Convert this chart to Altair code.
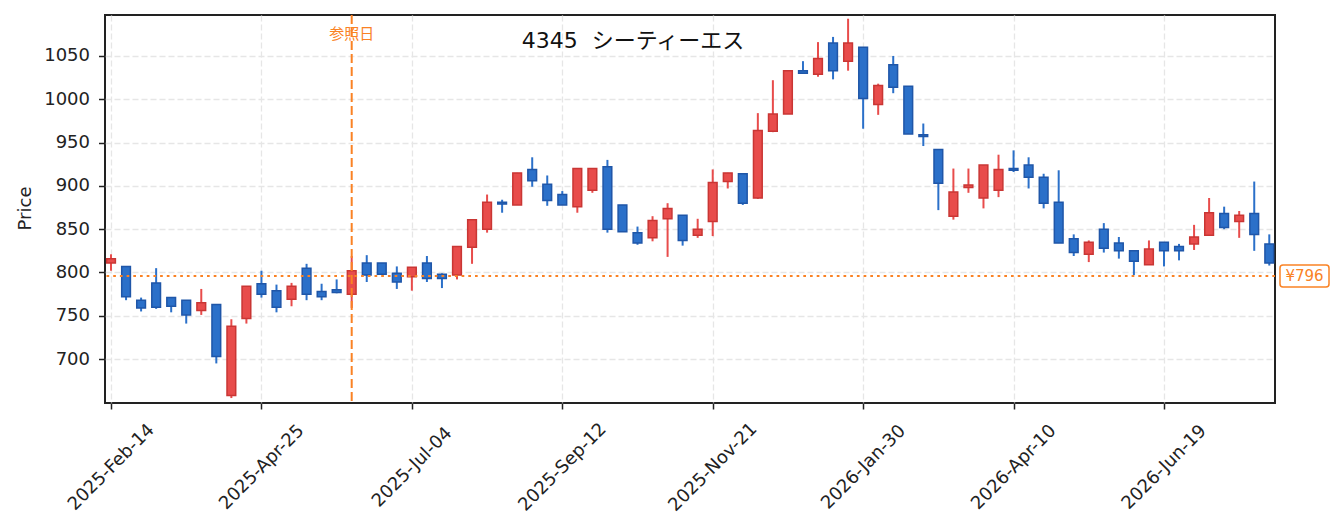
import json
import altair as alt
import pandas as pd

# ---- data (weekly candles) ----
start_date = "2025-02-14"
opens = [811, 807, 768, 788, 771, 768, 756, 763, 658, 747,
         787, 779, 769, 805, 778, 780, 775, 811, 811, 799,
         795, 811, 798, 797, 829, 850, 881, 878, 919, 902,
         890, 876, 895, 922, 878, 846, 840, 862, 866, 843,
         859, 905, 914, 886, 963, 983, 1033, 1029, 1065, 1044,
         1060, 994, 1040, 1015, 959, 942, 865, 898, 886, 895,
         920, 924, 910, 881, 839, 821, 850, 834, 825, 809,
         835, 830, 833, 843, 868, 859, 868, 833]
highs = [821, 807, 771, 805, 771, 768, 781, 763, 746, 784,
         802, 786, 788, 810, 787, 792, 819, 820, 811, 807,
         806, 819, 799, 830, 861, 890, 884, 915, 933, 912,
         894, 920, 920, 930, 878, 853, 865, 880, 866, 862,
         919, 915, 914, 984, 1022, 1033, 1044, 1066, 1072, 1093,
         1060, 1018, 1050, 1015, 972, 942, 920, 920, 924, 936,
         941, 933, 914, 918, 844, 837, 857, 841, 825, 837,
         835, 833, 855, 886, 876, 871, 905, 844]
lows = [802, 768, 755, 758, 754, 741, 751, 695, 655, 741,
        771, 754, 761, 768, 768, 776, 759, 789, 798, 781,
        779, 789, 782, 792, 810, 846, 869, 878, 899, 877,
        878, 869, 892, 846, 847, 832, 836, 818, 831, 840,
        842, 897, 878, 885, 962, 983, 1030, 1026, 1023, 1033,
        966, 982, 1007, 960, 946, 872, 861, 892, 874, 887,
        916, 897, 874, 834, 819, 812, 823, 816, 797, 809,
        807, 814, 826, 843, 850, 840, 825, 808]
closes = [816, 772, 759, 760, 761, 751, 765, 703, 738, 784,
          775, 760, 784, 775, 772, 777, 802, 797, 798, 789,
          806, 793, 793, 830, 861, 881, 879, 915, 906, 883,
          878, 920, 920, 850, 847, 834, 860, 874, 837, 850,
          904, 915, 880, 964, 983, 1033, 1030, 1047, 1033, 1065,
          1001, 1016, 1014, 960, 957, 903, 893, 901, 924, 919,
          918, 910, 880, 834, 823, 835, 828, 825, 813, 827,
          825, 825, 841, 869, 852, 866, 844, 811]
tick_labels = ["2025-Feb-14", "2025-Apr-25", "2025-Jul-04", "2025-Sep-12",
               "2025-Nov-21", "2026-Jan-30", "2026-Apr-10", "2026-Jun-19"]
y_ticks = [700, 750, 800, 850, 900, 950, 1000, 1050]
ref_date = "2025-06-06"
ref_price = 796
title_text = "4345\u00a0\u00a0シーティーエス"
ref_label = "参照日"
price_label = "¥796"
y_title = "Price"

# ---- styling ----
RED_FILL, RED_EDGE = "#e84c4b", "#c93634"
BLUE_FILL, BLUE_EDGE = "#2b70c9", "#1f56a8"
ORANGE = "#fa8224"
FONT = "DejaVu Sans, Noto Sans CJK JP"
INK = "#222222"
W, H = 1170, 388

dates = pd.date_range(start_date, periods=len(opens), freq="7D")
df = pd.DataFrame({
    "i": range(len(opens)),
    "date": dates.strftime("%Y-%m-%d"),
    "open": opens, "high": highs, "low": lows, "close": closes,
})
df["up"] = df["close"] >= df["open"]
df["x0"] = df["i"] - 0.29
df["x1"] = df["i"] + 0.29
df["body_lo"] = df[["open", "close"]].min(axis=1)
df["body_hi"] = df[["open", "close"]].max(axis=1)

tick_idx = [int(dates.get_loc(pd.to_datetime(t, format="%Y-%b-%d"))) for t in tick_labels]
ref_idx = int(dates.get_loc(pd.Timestamp(ref_date)))
label_map = {str(k): v for k, v in zip(tick_idx, tick_labels)}

x_scale = alt.Scale(domain=[-0.4, 77.38], nice=False, zero=False)
y_scale = alt.Scale(domain=[649.3, 1097.3], nice=False, zero=False)

x_axis = alt.Axis(
    values=tick_idx,
    labelExpr=f"{json.dumps(label_map)}[toString(datum.value)]",
    labelAngle=315, labelAlign="center", labelBaseline="middle",
    labelPadding=58, labelOverlap=False, labelBound=False, labelFlush=False,
    labelFontSize=18, labelFont=FONT, labelColor=INK,
    tickSize=6, tickWidth=1.5, tickColor=INK,
    grid=True, gridDash=[6, 3], gridColor="#e6e6e6", gridWidth=1.3,
    domain=False, title=None,
)
y_axis = alt.Axis(
    values=y_ticks, format="d",
    labelFontSize=18, labelFont=FONT, labelColor=INK, labelPadding=9,
    tickSize=6.5, tickWidth=1.5, tickColor=INK,
    grid=True, gridDash=[6, 3], gridColor="#e6e6e6", gridWidth=1.3,
    domain=False,
    title=y_title, titleFont=FONT, titleFontSize=18, titleFontWeight="normal",
    titleColor=INK, titleAngle=270, titleX=-79.5, titleY=193,
    titleAlign="center", titleBaseline="middle",
)

base = alt.Chart(df)

wicks = base.mark_rule(strokeWidth=2).encode(
    x=alt.X("i:Q", scale=x_scale, axis=x_axis),
    y=alt.Y("low:Q", scale=y_scale, axis=y_axis),
    y2="high:Q",
    color=alt.condition("datum.up", alt.value(RED_FILL), alt.value(BLUE_FILL)),
)

bodies = base.mark_rect(strokeWidth=1.5).encode(
    x="x0:Q", x2="x1:Q",
    y="body_lo:Q", y2="body_hi:Q",
    fill=alt.condition("datum.up", alt.value(RED_FILL), alt.value(BLUE_FILL)),
    stroke=alt.condition("datum.up", alt.value(RED_EDGE), alt.value(BLUE_EDGE)),
)

ref_df = pd.DataFrame({"i": [ref_idx], "t": [ref_label]})
ref_line = alt.Chart(ref_df).mark_rule(
    color=ORANGE, strokeWidth=2, strokeDash=[9, 4]
).encode(x="i:Q")
ref_text = alt.Chart(ref_df).mark_text(
    color=ORANGE, fontSize=15, font=FONT, align="center", baseline="middle"
).encode(x="i:Q", y=alt.value(19), text="t:N")

price_df = pd.DataFrame({"p": [ref_price], "lo": [ref_price - 12.7],
                         "hi": [ref_price + 12.6], "t": [price_label]})
price_line = alt.Chart(price_df).mark_rule(
    color=ORANGE, strokeWidth=2, strokeDash=[2.7, 4]
).encode(y="p:Q")
price_box = alt.Chart(price_df).mark_rect(
    fill="white", stroke=ORANGE, strokeWidth=1.5, cornerRadius=3
).encode(x=alt.value(W + 5), x2=alt.value(W + 54), y="lo:Q", y2="hi:Q")
price_text = alt.Chart(price_df).mark_text(
    color=ORANGE, fontSize=15, font=FONT, align="center", baseline="middle"
).encode(x=alt.value(W + 29.5), y="p:Q", text="t:N")

title_df = pd.DataFrame({"t": [title_text]})
title = alt.Chart(title_df).mark_text(
    fontSize=22, font=FONT, color="#111111", align="center", baseline="middle"
).encode(x=alt.value(528), y=alt.value(26), text="t:N")

chart = alt.layer(
    wicks, bodies, ref_line, price_line, ref_text, price_box, price_text, title
).properties(
    width=W, height=H,
    autosize=alt.AutoSizeParams(type="none"),
    padding={"left": 97, "top": 7, "right": 56, "bottom": 110},
    background="white",
).configure_view(
    stroke=INK, strokeWidth=2
)

chart.save("out.html", embed_options={"renderer": "svg", "actions": False})
